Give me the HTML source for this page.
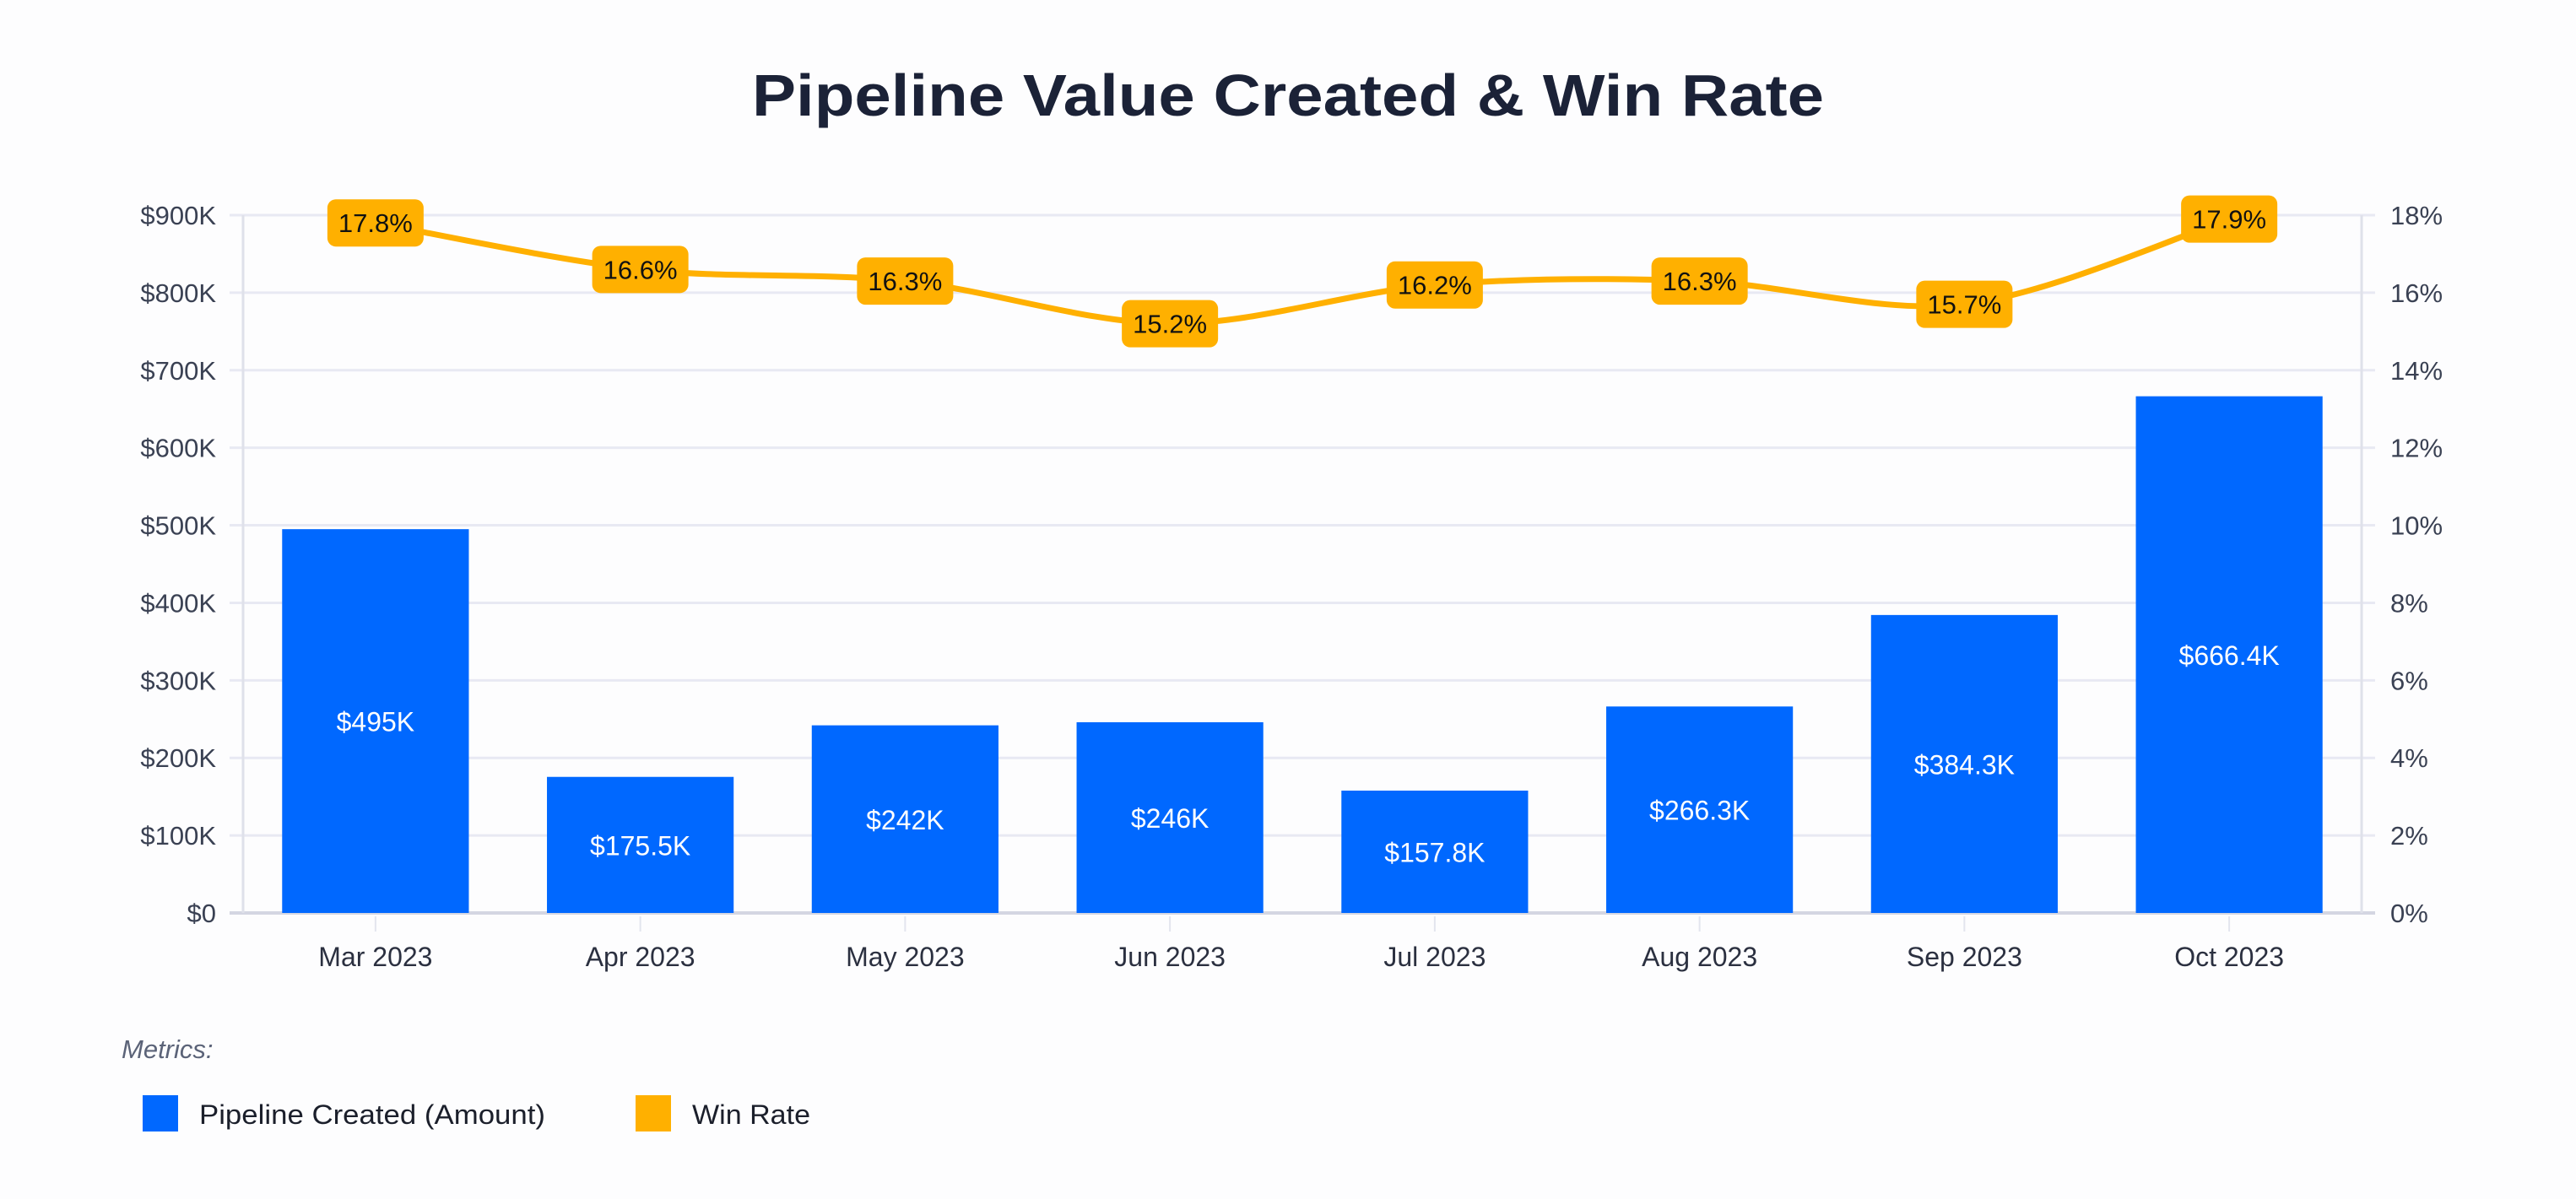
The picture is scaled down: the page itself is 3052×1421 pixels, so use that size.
<!DOCTYPE html>
<html><head><meta charset="utf-8"><style>
html,body{margin:0;padding:0;background:#fdfdfe;}
svg{display:block;font-family:"Liberation Sans",sans-serif;}
</style></head><body>
<svg id="chart" width="3052" height="1421" viewBox="0 0 3052 1421" xmlns="http://www.w3.org/2000/svg">
<rect width="3052" height="1421" fill="#fdfdfe"/>
<text x="1526" y="137" text-anchor="middle" font-size="70" font-weight="bold" fill="#1b2237" textLength="1270" lengthAdjust="spacingAndGlyphs">Pipeline Value Created &amp; Win Rate</text>
<g id="grid"></g>
<g id="bars"></g>
<g id="axes"></g>
<g id="line"></g>
<g>
<text x="144" y="1254" font-size="31" font-style="italic" fill="#5b6378">Metrics:</text>
<g>
<rect x="169" y="1298" width="42" height="43" fill="#0068ff"/>
<text x="236" y="1332" font-size="32" fill="#1b1f2b" textLength="410" lengthAdjust="spacingAndGlyphs">Pipeline Created (Amount)</text>
</g>
<g>
<rect x="753" y="1298" width="42" height="43" fill="#ffb000"/>
<text x="820" y="1332" font-size="32" fill="#1b1f2b" textLength="140" lengthAdjust="spacingAndGlyphs">Win Rate</text>
</g>
</g>
</svg>
<script>
const categories = ["Mar 2023","Apr 2023","May 2023","Jun 2023","Jul 2023","Aug 2023","Sep 2023","Oct 2023"];
const pipelineValues = [495, 175.5, 242, 246, 157.8, 266.3, 384.3, 666.4];
const pipelineLabels = ["$495K","$175.5K","$242K","$246K","$157.8K","$266.3K","$384.3K","$666.4K"];
const winRates = [17.8, 16.6, 16.3, 15.2, 16.2, 16.3, 15.7, 17.9];
const leftTicks = [0,100,200,300,400,500,600,700,800,900];
const leftTickLabels = ["$0","$100K","$200K","$300K","$400K","$500K","$600K","$700K","$800K","$900K"];
const rightTicks = [0,2,4,6,8,10,12,14,16,18];
const rightTickLabels = ["0%","2%","4%","6%","8%","10%","12%","14%","16%","18%"];

const NS="http://www.w3.org/2000/svg";
const X0=288, X1=2798, Y0=1082, Y1=255;
const band=(X1-X0)/categories.length;
function xC(i){return X0+band*(i+0.5);}
function yL(v){return Y0-(v/900)*(Y0-Y1);}
function yR(v){return Y0-(v/18)*(Y0-Y1);}
function mk(tag,attrs,parent){const e=document.createElementNS(NS,tag);for(const k in attrs)e.setAttribute(k,attrs[k]);parent.appendChild(e);return e;}

const grid=document.getElementById('grid'), bars=document.getElementById('bars'), axes=document.getElementById('axes'), line=document.getElementById('line');

leftTicks.forEach((t,i)=>{
  const y=yL(t);
  const g=mk('line',{x1:272,x2:2814,y1:y,y2:y,stroke:i===0?'#d4d6e2':'#e8e9f3','stroke-width':i===0?4:3},grid);
  
  
  const tx=mk('text',{x:256,y:y+11,'text-anchor':'end','font-size':31,fill:'#3a4153'},axes);
  tx.textContent=leftTickLabels[i];
  
  
});
rightTicks.forEach((t,i)=>{
  const y=yR(t);
  const tx=mk('text',{x:2832,y:y+11,'font-size':31,fill:'#3a4153'},axes);
  tx.textContent=rightTickLabels[i];
  
  
});
const la=mk('line',{x1:X0,x2:X0,y1:Y1,y2:Y0,stroke:'#dfe1ea','stroke-width':3},axes);


const ra=mk('line',{x1:X1,x2:X1,y1:Y1,y2:Y0,stroke:'#dfe1ea','stroke-width':3},axes);



const bw=band*0.705;
categories.forEach((c,i)=>{
  const x=xC(i), top=yL(pipelineValues[i]);
  const r=mk('rect',{x:x-bw/2,y:top,width:bw,height:Y0-top,fill:'#0068ff'},bars);
  
  
  const bl=mk('text',{x:x,y:(top+Y0)/2+12,'text-anchor':'middle','font-size':32,fill:'#ffffff'},bars);
  bl.textContent=pipelineLabels[i];
  
  
  const tk=mk('line',{x1:x,x2:x,y1:Y0+4,y2:Y0+22,stroke:'#e3e5ee','stroke-width':2},axes);
  
  
  const xl=mk('text',{x:x,y:1145,'text-anchor':'middle','font-size':32,fill:'#2b3040'},axes);
  xl.textContent=c;
  
  
});

const pts=winRates.map((v,i)=>[xC(i),yR(v)]);
let d='M'+pts[0][0]+','+pts[0][1];
for(let i=0;i<pts.length-1;i++){
  const p0=pts[Math.max(0,i-1)],p1=pts[i],p2=pts[i+1],p3=pts[Math.min(pts.length-1,i+2)];
  const t=0.16;
  const c1=[p1[0]+(p2[0]-p0[0])*t,p1[1]+(p2[1]-p0[1])*t];
  const c2=[p2[0]-(p3[0]-p1[0])*t,p2[1]-(p3[1]-p1[1])*t];
  d+=' C'+c1[0]+','+c1[1]+' '+c2[0]+','+c2[1]+' '+p2[0]+','+p2[1];
}
const pl=mk('path',{d:d,fill:'none',stroke:'#ffb000','stroke-width':7,'stroke-linecap':'round'},line);


pts.forEach((p,i)=>{
  const bx=mk('rect',{x:p[0]-57,y:p[1]-28,width:114,height:56,rx:10,fill:'#ffb000'},line);
  
  
  const t=mk('text',{x:p[0],y:p[1]+11,'text-anchor':'middle','font-size':31,fill:'#111111'},line);
  t.textContent=winRates[i].toFixed(1)+'%';
  
  
});
</script>
</body></html>
